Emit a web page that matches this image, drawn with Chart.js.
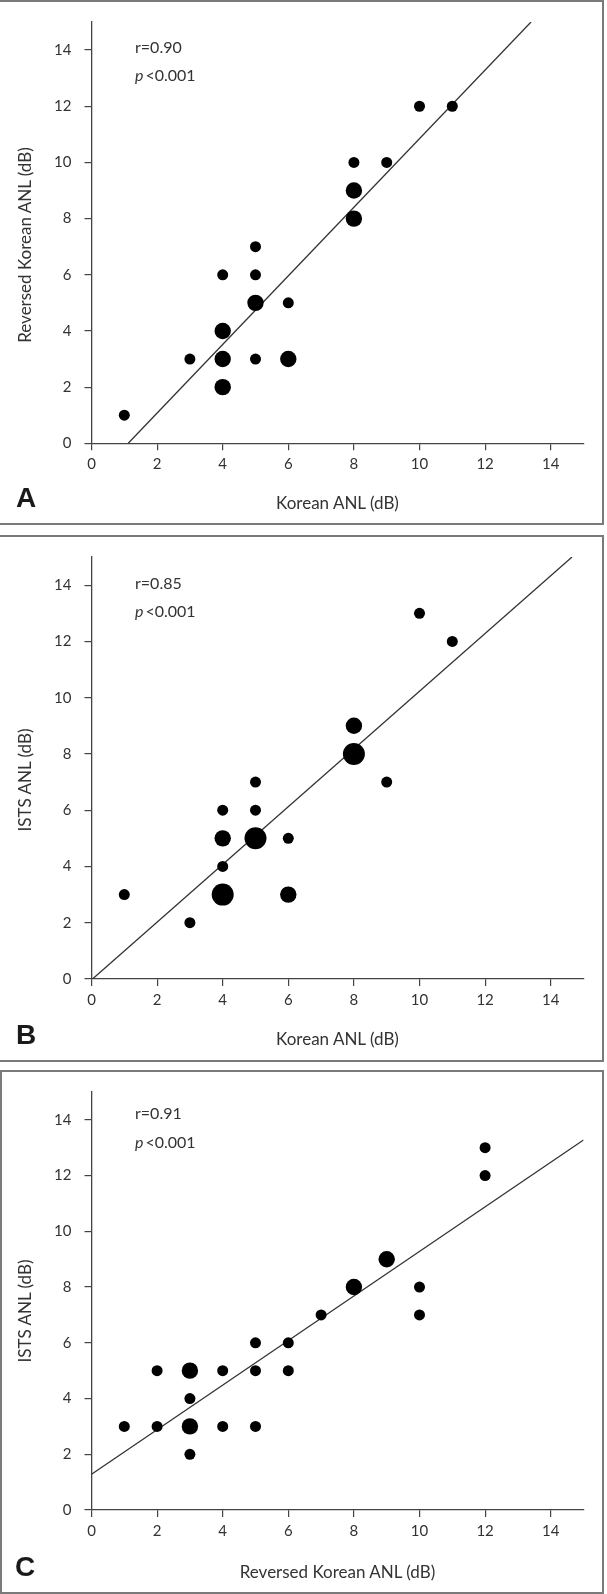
<!DOCTYPE html>
<html>
<head>
<meta charset="utf-8">
<script src="https://cdn.jsdelivr.net/npm/chart.js@4.4.1/dist/chart.umd.min.js"></script>
<style>
  body { margin: 0; background: #fff; width: 607px; height: 1594px; position: relative; overflow: hidden; }
  .panel { position: absolute; left: 0; width: 604px; box-sizing: border-box; border: 2px solid #7a7a7a; }
  canvas { position: absolute; left: 0; }
  .txt { position: absolute; font-family: Lato, "DejaVu Sans", sans-serif; color: #333; white-space: nowrap; line-height: 20px; }
  .note { font-size: 16px; }
  .xt, .yt { font-size: 17px; transform: translate(-50%, -50%); }
  .yt { transform: translate(-50%, -50%) rotate(-90deg); }
  .letter { position: absolute; font-family: "Liberation Sans", Arial, sans-serif; font-weight: bold; font-size: 28px; line-height: 28px; color: #1a1a1a; }
</style>
</head>
<body>
<div class="panel" style="top:0;height:525px;border-left:none;"></div>
<div class="panel" style="top:534.5px;height:527px;border-left:none;"></div>
<div class="panel" style="top:1069.5px;height:524px;"></div>

<canvas id="chartA" width="604" height="525" style="top:0"></canvas>
<canvas id="chartB" width="604" height="525" style="top:535px"></canvas>
<canvas id="chartC" width="604" height="524" style="top:1070px"></canvas>

<div class="txt note" style="left:135px;top:36.7px">r=0.90</div>
<div class="txt note" style="left:135px;top:65px"><i>p</i>&thinsp;&lt;0.001</div>
<div class="txt yt" style="left:24.5px;top:244.5px">Reversed Korean ANL (dB)</div>
<div class="txt xt" style="left:337.5px;top:503.3px">Korean ANL (dB)</div>
<div class="letter" style="left:16px;top:484px">A</div>

<div class="txt note" style="left:135px;top:572.9px">r=0.85</div>
<div class="txt note" style="left:135px;top:601.2px"><i>p</i>&thinsp;&lt;0.001</div>
<div class="txt yt" style="left:24.5px;top:780px">ISTS ANL (dB)</div>
<div class="txt xt" style="left:337.5px;top:1039px">Korean ANL (dB)</div>
<div class="letter" style="left:16px;top:1021px">B</div>

<div class="txt note" style="left:135px;top:1103.2px">r=0.91</div>
<div class="txt note" style="left:135px;top:1131.5px"><i>p</i>&thinsp;&lt;0.001</div>
<div class="txt yt" style="left:24.5px;top:1311px">ISTS ANL (dB)</div>
<div class="txt xt" style="left:337.5px;top:1571.7px">Reversed Korean ANL (dB)</div>
<div class="letter" style="left:15px;top:1553px">C</div>

<script>
// panel A: Korean ANL vs Reversed Korean ANL
var koreanA   = [1, 3, 4, 4, 4, 4, 5, 5, 5, 5, 6, 6, 8, 8, 8, 9, 10, 11];
var reversedA = [1, 3, 6, 4, 3, 2, 7, 6, 5, 3, 5, 3, 10, 9, 8, 10, 12, 12];
var countA    = [1, 1, 1, 2, 2, 2, 1, 1, 2, 1, 1, 2, 1, 2, 2, 1, 1, 1];
var fitA_x = [1.12, 13.4];
var fitA_y = [0, 15];

// panel B: Korean ANL vs ISTS ANL
var koreanB = [1, 3, 4, 4, 4, 4, 5, 5, 5, 6, 6, 8, 8, 9, 10, 11];
var istsB   = [3, 2, 6, 5, 4, 3, 7, 6, 5, 5, 3, 9, 8, 7, 13, 12];
var countB  = [1, 1, 1, 2, 1, 3, 1, 1, 3, 1, 2, 2, 3, 1, 1, 1];
var fitB_x = [0.03, 14.65];
var fitB_y = [0, 15];

// panel C: Reversed Korean ANL vs ISTS ANL
var reversedC = [1, 2, 2, 3, 3, 3, 3, 4, 4, 5, 5, 5, 6, 6, 7, 8, 9, 10, 10, 12, 12];
var istsC     = [3, 5, 3, 5, 4, 3, 2, 5, 3, 6, 5, 3, 6, 5, 7, 8, 9, 8, 7, 13, 12];
var countC    = [1, 1, 1, 2, 1, 2, 1, 1, 1, 1, 1, 1, 1, 1, 1, 2, 2, 1, 1, 1, 1];
var fitC_x = [0, 15];
var fitC_y = [1.28, 13.28];

var axisTicks = [0, 2, 4, 6, 8, 10, 12, 14];

// dot radius by number of subjects at the same point
var dotRadius = {1: 5.5, 2: 8.2, 3: 11};

function pairs(xs, ys) {
    return xs.map(function(x, i) { return {x: x, y: ys[i]}; });
}

function axis(fitFn) {
    return {
        type: 'linear',
        min: 0,
        max: 15,
        afterFit: fitFn,
        afterBuildTicks: function(scale) {
            scale.ticks = axisTicks.map(function(v) { return {value: v}; });
        },
        ticks: {
            color: '#333',
            font: {family: 'Lato', size: 15},
            maxRotation: 0,
            autoSkip: false
        },
        grid: {
            display: true,
            drawOnChartArea: false,
            drawTicks: true,
            tickLength: 7,
            color: '#444',
            lineWidth: 1.2
        },
        border: {display: true, color: '#444', width: 1.3}
    };
}

function drawPanel(id, xs, ys, ns, fx, fy, top, xHeight) {
    var ctx = document.getElementById(id).getContext('2d');
    var xAxis = axis(function(s) { s.height = xHeight; });
    xAxis.ticks.padding = 5;
    var yAxis = axis(function(s) { s.width = 91.5; });
    yAxis.ticks.padding = 13;
    return new Chart(ctx, {
        type: 'scatter',
        data: {
            datasets: [{
                data: pairs(xs, ys),
                backgroundColor: '#000',
                borderWidth: 0,
                pointRadius: function(c) { return dotRadius[ns[c.dataIndex]]; },
                pointHoverRadius: function(c) { return dotRadius[ns[c.dataIndex]]; }
            }, {
                type: 'line',
                data: pairs(fx, fy),
                borderColor: '#333',
                borderWidth: 1.3,
                pointRadius: 0,
                fill: false
            }]
        },
        options: {
            responsive: false,
            animation: false,
            events: [],
            layout: {padding: {top: top, right: 20.5, left: 0, bottom: 0}},
            plugins: {legend: {display: false}, tooltip: {enabled: false}},
            scales: {x: xAxis, y: yAxis}
        }
    });
}

drawPanel('chartA', koreanA, reversedA, countA, fitA_x, fitA_y, 10.5, 81.7);
drawPanel('chartB', koreanB, istsB, countB, fitB_x, fitB_y, 11.7, 81);
drawPanel('chartC', reversedC, istsC, countC, fitC_x, fitC_y, 7, 84);
</script>
</body>
</html>
